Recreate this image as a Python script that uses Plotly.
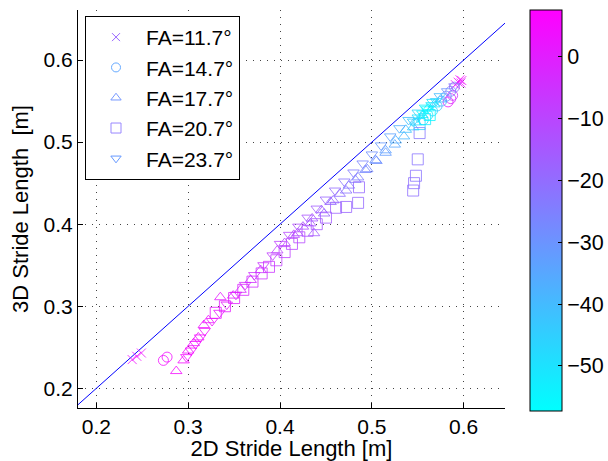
import plotly.graph_objects as go

# ---------------- data ----------------
fa_labels = ["FA=11.7°", "FA=14.7°", "FA=17.7°", "FA=20.7°", "FA=23.7°"]

x_117 = [0.239, 0.244, 0.249, 0.591, 0.594, 0.596, 0.598, 0.597]
y_117 = [0.235, 0.239, 0.243, 0.570, 0.573, 0.576, 0.575, 0.572]
c_117 = [4, 4, 3, 2, 5, 6, 4, 0]

x_147 = [0.273, 0.277, 0.583, 0.586, 0.588, 0.556, 0.561, 0.566, 0.571, 0.576, 0.581, 0.586, 0.590]
y_147 = [0.234, 0.238, 0.549, 0.553, 0.557, 0.527, 0.533, 0.538, 0.544, 0.550, 0.556, 0.562, 0.567]
c_147 = [4, 4, 2, -2, -5, -50, -53, -48, -42, -36, -30, -25, -20]

x_177 = [0.287, 0.295, 0.300, 0.306, 0.311, 0.317, 0.322, 0.335, 0.349, 0.357, 0.368, 0.379, 0.397,
         0.419, 0.437, 0.433, 0.448, 0.458, 0.472, 0.482, 0.493, 0.504, 0.515, 0.526, 0.537, 0.548,
         0.555, 0.561, 0.568, 0.575,
         0.405, 0.415, 0.425, 0.435, 0.445, 0.455, 0.465, 0.475, 0.485, 0.495, 0.505, 0.515, 0.525,
         0.535, 0.545]
y_177 = [0.221, 0.234, 0.246, 0.255, 0.262, 0.277, 0.283, 0.311, 0.313, 0.320, 0.332, 0.344, 0.368,
         0.389, 0.389, 0.401, 0.413, 0.429, 0.441, 0.454, 0.466, 0.478, 0.490, 0.502, 0.515, 0.524,
         0.533, 0.541, 0.546, 0.552,
         0.377, 0.387, 0.397, 0.407, 0.417, 0.427, 0.437, 0.447, 0.457, 0.467, 0.477, 0.487, 0.497,
         0.507, 0.518]
c_177 = [5, 5, 5, 4, 4, 3, 3, 1, -1, -2, -4, -6, -9, -12, -16, -14, -18, -20, -22, -24, -27, -30,
         -33, -37, -41, -46, -52, -56, -50, -42,
         -10, -11, -13, -15, -17, -19, -21, -23, -25, -27, -29, -32, -35, -39, -44]

x_207 = [0.330, 0.340, 0.350, 0.360, 0.370, 0.380, 0.388, 0.396, 0.405, 0.413, 0.421, 0.430, 0.440,
         0.450, 0.461, 0.472, 0.485, 0.486, 0.545, 0.546, 0.548, 0.550, 0.552, 0.552, 0.558, 0.563]
y_207 = [0.292, 0.300, 0.310, 0.320, 0.330, 0.340, 0.348, 0.356, 0.366, 0.376, 0.384, 0.392, 0.400,
         0.408, 0.420, 0.421, 0.426, 0.445, 0.441, 0.450, 0.459, 0.479, 0.511, 0.522, 0.528, 0.533]
c_207 = [2, 1, 0, -2, -4, -5, -6, -8, -9, -10, -11, -13, -15, -16, -17, -18, -19, -19, -21, -21,
         -22, -22, -23, -45, -52, -55]

x_237 = [0.298, 0.303, 0.308, 0.313, 0.318, 0.326, 0.334, 0.342, 0.352, 0.362, 0.372, 0.382, 0.392,
         0.400, 0.410, 0.420, 0.430, 0.440, 0.450, 0.460, 0.470, 0.480, 0.490, 0.500, 0.510, 0.520,
         0.530, 0.540, 0.550, 0.558, 0.566, 0.574, 0.582, 0.590,
         0.545, 0.550, 0.555, 0.560, 0.565, 0.570]
y_237 = [0.238, 0.246, 0.254, 0.262, 0.270, 0.282, 0.292, 0.302, 0.314, 0.326, 0.338, 0.350, 0.362,
         0.376, 0.387, 0.397, 0.408, 0.419, 0.430, 0.441, 0.452, 0.463, 0.474, 0.485, 0.496, 0.507,
         0.517, 0.527, 0.536, 0.542, 0.549, 0.556, 0.562, 0.568,
         0.525, 0.530, 0.535, 0.540, 0.545, 0.550]
c_237 = [5, 5, 4, 4, 4, 3, 2, 1, -1, -3, -5, -6, -8, -9, -11, -12, -14, -16, -18, -20, -22, -24,
         -26, -29, -31, -34, -37, -41, -47, -54, -50, -40, -30, -22,
         -45, -50, -55, -56, -52, -46]

legend_colors = ["#9966ff", "#66aaff", "#7799ff", "#9988ff", "#6699ff"]

ref_x = [0.18, 0.66]
ref_y = [0.18, 0.66]

x_ticks = [0.2, 0.3, 0.4, 0.5, 0.6]
y_ticks = [0.2, 0.3, 0.4, 0.5, 0.6]
cb_ticks = [0, -10, -20, -30, -40, -50]

# ---------------- figure ----------------
FONT = "Liberation Sans, Arial, sans-serif"
series = [
    (x_117, y_117, c_117, "x-thin-open", 9),
    (x_147, y_147, c_147, "circle-open", 10),
    (x_177, y_177, c_177, "triangle-up-open", 10),
    (x_207, y_207, c_207, "square-open", 11),
    (x_237, y_237, c_237, "triangle-down-open", 10),
]

fig = go.Figure()
fig.add_trace(go.Scatter(x=ref_x, y=ref_y, mode="lines",
                         line=dict(color="#0000ff", width=1), showlegend=False,
                         hoverinfo="skip"))

for i, (xs, ys, cs, sym, sz) in enumerate(series):
    fig.add_trace(go.Scatter(
        x=xs, y=ys, mode="markers", showlegend=False,
        marker=dict(symbol=sym, size=sz, color=cs, coloraxis="coloraxis",
                    opacity=0.8, line=dict(width=1)),
    ))

for i, (xs, ys, cs, sym, sz) in enumerate(series):
    fig.add_trace(go.Scatter(
        x=[None], y=[None], mode="markers", name=fa_labels[i],
        marker=dict(symbol=sym, size=sz - 1, color=legend_colors[i], line=dict(width=1)),
    ))

fig.update_layout(
    width=608, height=461,
    margin=dict(l=78, r=103, t=10, b=53, autoexpand=False),
    paper_bgcolor="white", plot_bgcolor="white",
    font=dict(family=FONT, size=21, color="black"),
    coloraxis=dict(
        cmin=-57.3, cmax=7.6,
        colorscale=[[0, "#00ffff"], [1, "#ff00ff"]],
        colorbar=dict(
            x=1.0585, xanchor="left", xpad=0, ypad=0,
            y=1, yanchor="top", lenmode="pixels", len=401,
            thickness=32, thicknessmode="pixels",
            outlinecolor="black", outlinewidth=1,
            tickvals=cb_ticks, ticks="inside", ticklen=4, tickcolor="black",
            tickfont=dict(family=FONT, size=21.5, color="black"),
        ),
    ),
    legend=dict(
        x=0.0164, y=0.985, xanchor="left", yanchor="top",
        bordercolor="black", borderwidth=1, bgcolor="white",
        font=dict(family=FONT, size=21, color="black"),
        itemwidth=50,
    ),
    xaxis=dict(
        range=[0.18, 0.645], tickvals=x_ticks, ticktext=[f"{v:.1f}" for v in x_ticks],
        showline=True, linecolor="black", linewidth=1, mirror=False,
        ticks="inside", ticklen=5, tickcolor="black",
        tickfont=dict(family=FONT, size=21, color="black"),
        showgrid=True, gridcolor="#444", gridwidth=1, griddash="1px,6px",
        zeroline=False,
        title=dict(text="2D Stride Length [m]", standoff=7,
                   font=dict(family=FONT, size=22, color="black")),
    ),
    yaxis=dict(
        range=[0.176, 0.661], tickvals=y_ticks, ticktext=[f"{v:.1f}" for v in y_ticks],
        showline=True, linecolor="black", linewidth=1, mirror=False,
        ticks="inside", ticklen=5, tickcolor="black",
        tickfont=dict(family=FONT, size=21, color="black"),
        showgrid=True, gridcolor="#444", gridwidth=1, griddash="1px,6px",
        zeroline=False,
        title=dict(text="3D Stride Length  [m]", standoff=8,
                   font=dict(family=FONT, size=22, color="black")),
    ),
)

fig.write_html("out.html")
